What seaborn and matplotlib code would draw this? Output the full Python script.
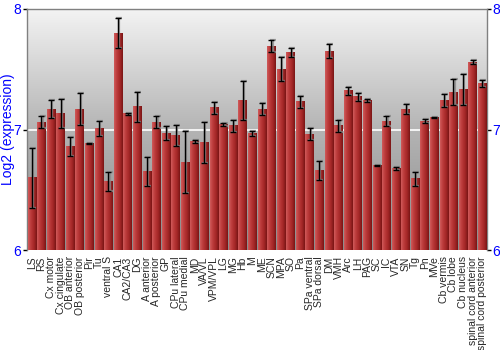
import numpy as np
import pandas as pd
import matplotlib
matplotlib.use("Agg")
import matplotlib.pyplot as plt
import seaborn as sns
from matplotlib.colors import LinearSegmentedColormap

regions = ["LS", "RS", "Cx motor", "Cx cingulate", "OB anterior", "OB posterior", "Pir", "Tu",
           "ventral S", "CA1", "CA2/CA3", "DG", "A anterior", "A posterior", "GP", "CPu lateral",
           "CPu medial", "MD", "VA/VL", "VPM/VPL", "LG", "MG", "Hb", "M", "ME", "SCN", "MPA",
           "SO", "Pa", "SPa ventral", "SPa dorsal", "DM", "VMH", "Arc", "LH", "PAG", "SC", "IC",
           "VTA", "SN", "Tg", "Pn", "MVe", "Cb vermis", "Cb lobe", "Cb nucleus",
           "spinal cord anterior", "spinal cord posterior"]
expression = [6.60, 7.06, 7.17, 7.13, 6.86, 7.17, 6.885, 7.01,
              6.57, 7.80, 7.13, 7.19, 6.65, 7.06, 6.97, 6.95,
              6.73, 6.90, 6.89, 7.18, 7.04, 7.03, 7.24, 6.97, 7.17, 7.69, 7.50,
              7.64, 7.23, 6.96, 6.66, 7.65, 7.03, 7.32, 7.27, 7.24, 6.70, 7.07,
              6.68, 7.17, 6.59, 7.07, 7.10, 7.24, 7.31, 7.33,
              7.56, 7.38]
errors = [0.25, 0.05, 0.075, 0.12, 0.08, 0.13, 0.005, 0.06,
          0.08, 0.127, 0.01, 0.125, 0.12, 0.05, 0.06, 0.09,
          0.26, 0.01, 0.17, 0.05, 0.015, 0.05, 0.16, 0.02, 0.05, 0.05, 0.10,
          0.04, 0.05, 0.05, 0.08, 0.06, 0.05, 0.03, 0.035, 0.01, 0.005, 0.045,
          0.012, 0.045, 0.055, 0.02, 0.005, 0.055, 0.11, 0.13,
          0.015, 0.03]
y_ticks = [6, 7, 8]
y_min, y_max = 6, 8

df = pd.DataFrame({"region": regions, "expression": expression, "err": errors})

sns.set_style("white")
plt.rcParams["font.family"] = ["Liberation Sans", "DejaVu Sans"]

fig = plt.figure(figsize=(5, 3.5), dpi=100)
ax = fig.add_axes([0.054, 0.2857, 0.92, 0.6886])

sns.barplot(data=df, x="region", y="expression", errorbar=None, width=0.88,
            color="#b03030", ax=ax, zorder=3)

n = len(regions)
# background vertical gradient
bg = np.linspace(0, 1, 256).reshape(-1, 1)
bg_cmap = LinearSegmentedColormap.from_list("bg", ["#8c8c8c", "#b4b4b4", "#f4f4f4"])
ax.imshow(bg, aspect="auto", cmap=bg_cmap, origin="lower",
          extent=[-0.5, n - 0.5, y_min, y_max], zorder=0)
ax.axhline(7, color="white", lw=1.2, zorder=1)

# cylinder shading for bars
bar_cmap = LinearSegmentedColormap.from_list("bar", ["#d05a5a", "#bb3a3a", "#a52828", "#7a1515"])
grad = np.linspace(0, 1, 64).reshape(1, -1)
for p in list(ax.patches):
    x0, w = p.get_x(), p.get_width()
    top = p.get_y() + p.get_height()
    p.set_visible(False)
    ax.imshow(grad, aspect="auto", cmap=bar_cmap,
              extent=[x0, x0 + w, y_min, top], zorder=3)

xs = np.arange(n)
# soft shadow of error bars
ax.errorbar(xs + 0.12, df["expression"], yerr=df["err"], fmt="none",
            ecolor="#8a8a8a", elinewidth=1.6, capsize=2.5, capthick=1.6, zorder=4, alpha=0.8)
ax.errorbar(xs, df["expression"], yerr=df["err"], fmt="none",
            ecolor="black", elinewidth=1.0, capsize=2.5, capthick=1.0, zorder=5)

ax.set_xlim(-0.5, n - 0.5)
ax.set_ylim(y_min, y_max)
ax.set_xticks(xs)
ax.set_xticklabels(regions)
ax.set_yticks(y_ticks)
ax.set_yticklabels([str(t) for t in y_ticks])
ax.tick_params(axis="y", which="both", left=True, right=True, labelleft=True, labelright=True,
               length=3, width=1, color="black", labelcolor="#0000ff", labelsize=10, pad=1)
ax.tick_params(axis="x", bottom=False, labelsize=7.5, pad=1, labelrotation=90)
ax.set_xlabel("")
ax.set_ylabel("Log2 (expression)", color="#0000ff", fontsize=10)
ax.yaxis.set_label_coords(-0.026, 0.5)

for s in ["top", "left", "right"]:
    ax.spines[s].set_color("#808080")
    ax.spines[s].set_linewidth(1)
ax.spines["bottom"].set_visible(False)

fig.savefig("out.png", dpi=100)
